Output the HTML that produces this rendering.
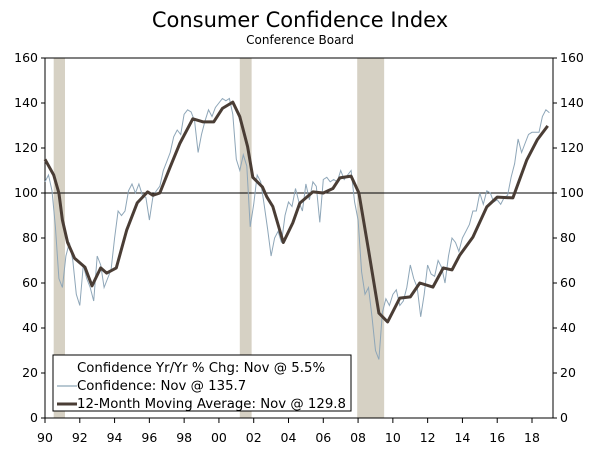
<!DOCTYPE html>
<html><head><meta charset="utf-8"><style>
body{margin:0;background:#fff;}
svg text{font-family:"DejaVu Sans","Liberation Sans",sans-serif;}
</style></head><body>
<svg id="chart" width="600" height="448" viewBox="0 0 600 448">
<text x="300" y="27" text-anchor="middle" font-size="21" fill="#000">Consumer Confidence Index</text>
<text x="300" y="44" text-anchor="middle" font-size="12" fill="#000">Conference Board</text>
<g id="rec"></g><g id="axes"></g><g id="series"></g>
<g>
<rect x="53" y="355" width="298" height="56" fill="#fff" stroke="#000" stroke-width="1"/>
<text x="77" y="372" font-size="13.3">Confidence Yr/Yr % Chg: Nov @ 5.5%</text>
<line x1="57" y1="386" x2="77" y2="386" stroke="#8ea6b8" stroke-width="1.2"/>
<text x="77" y="390" font-size="13.3">Confidence: Nov @ 135.7</text>
<line x1="57" y1="404" x2="77" y2="404" stroke="#4a3d35" stroke-width="3"/>
<text x="77" y="408" font-size="13.3">12-Month Moving Average: Nov @ 129.8</text>
</g>
</svg>
<script>
const recessions=[[1990.5,1991.15],[2001.2,2001.88],[2007.95,2009.5]];
const yTicks=[0,20,40,60,80,100,120,140,160];
const xTickYears=[1990,1992,1994,1996,1998,2000,2002,2004,2006,2008,2010,2012,2014,2016,2018];
const xTickLabels=["90","92","94","96","98","00","02","04","06","08","10","12","14","16","18"];
const maT=[1990,1990.5,1990.8,1991,1991.3,1991.7,1992.3,1992.7,1993.2,1993.55,1994.1,1994.7,1995.3,1995.9,1996.2,1996.6,1997.2,1997.75,1998.5,1999.1,1999.7,2000.2,2000.8,2001.2,2001.65,2001.95,2002.5,2002.75,2003.1,2003.7,2004.25,2004.65,2005.4,2006,2006.55,2006.95,2007.6,2008.05,2008.6,2009.2,2009.7,2010.4,2011,2011.55,2012.3,2012.9,2013.4,2013.85,2014.6,2015.4,2016,2016.9,2017.7,2018.3,2018.9];
const maV=[115,108,100,88,78,71,67,58.7,66.7,64.4,66.7,83.5,95.6,100.5,99,100,111.6,122,133,131.6,131.6,137.6,140.4,133.9,120.6,107,102.7,98.3,94,78,86.7,95.5,100.5,100,102,106.7,107.5,100,74.7,46.6,42.7,53.3,53.8,60,58.2,66.7,65.8,72.4,80.4,93.8,98.2,97.8,114.7,123.6,129.8];
const confV=[105,108,101,85,62,58,72,78,70,55,50,68,62,58,52,72,68,58,62,66,80,92,90,92,101,104,100,104,99,98,88,98,101,103,110,114,118,125,128,126,135,137,136,132,118,126,132,137,134,138,140,142,141,142,135,115,110,117,112,85,95,108,105,95,84,72,80,83,78,90,96,94,102,96,92,104,97,105,103,87,106,107,105,106,105,110,106,108,110,96,88,65,55,58,45,30,26,47,53,50,55,57,50,52,58,68,62,58,45,55,68,64,63,70,67,60,72,80,78,74,80,83,86,92,92,100,95,101,100,96,97,95,98,99,107,113,124,118,122,126,127,127,127,134,137,135.7];
const confStart=1990, confStep=0.2;
const ns="http://www.w3.org/2000/svg";
const X0=45,X1=532,Y0=418,Y1=58,RIGHT=553;
const xs=t=>X0+(t-1990)*(X1-X0)/28;
const ys=v=>Y0-(v)*(Y0-Y1)/160;
function mk(tag,attrs,parent){const e=document.createElementNS(ns,tag);for(const k in attrs)e.setAttribute(k,attrs[k]);parent.appendChild(e);return e;}
const rec=document.getElementById('rec');
recessions.forEach(r=>{const e=mk('rect',{x:xs(r[0]),y:Y1,width:xs(r[1])-xs(r[0]),height:Y0-Y1,fill:'#d6d1c4'},rec);

});
const ax=document.getElementById('axes');
let e=mk('rect',{x:X0,y:Y1,width:RIGHT-X0,height:Y0-Y1,fill:'none',stroke:'#000','stroke-width':1},ax);


e=mk('line',{x1:X0,x2:RIGHT,y1:ys(100),y2:ys(100),stroke:'#000','stroke-width':1},ax);


yTicks.forEach(v=>{const y=ys(v);
mk('line',{x1:X0-4,x2:X0,y1:y,y2:y,stroke:'#000'},ax);
mk('line',{x1:RIGHT,x2:RIGHT+4,y1:y,y2:y,stroke:'#000'},ax);
let t=mk('text',{x:X0-7,y:y+4,'text-anchor':'end','font-size':12.5},ax);t.textContent=v;


t=mk('text',{x:RIGHT+7,y:y+4,'font-size':12.5},ax);t.textContent=v;

});
xTickYears.forEach((yr,i)=>{const x=xs(yr);
mk('line',{x1:x,x2:x,y1:Y0,y2:Y0+5,stroke:'#000'},ax);
const t=mk('text',{x:x,y:442,'text-anchor':'middle','font-size':12.5},ax);t.textContent=xTickLabels[i];

});
const se=document.getElementById('series');
const cp=confV.map((v,i)=>xs(confStart+i*confStep).toFixed(1)+','+ys(v).toFixed(1)).join(' ');
e=mk('polyline',{points:cp,fill:'none',stroke:'#8ea6b8','stroke-width':1},se);


const mp=maV.map((v,i)=>xs(maT[i]).toFixed(1)+','+ys(v).toFixed(1)).join(' ');
e=mk('polyline',{points:mp,fill:'none',stroke:'#4a3d35','stroke-width':3,'stroke-linejoin':'round'},se);


</script>
</body></html>
